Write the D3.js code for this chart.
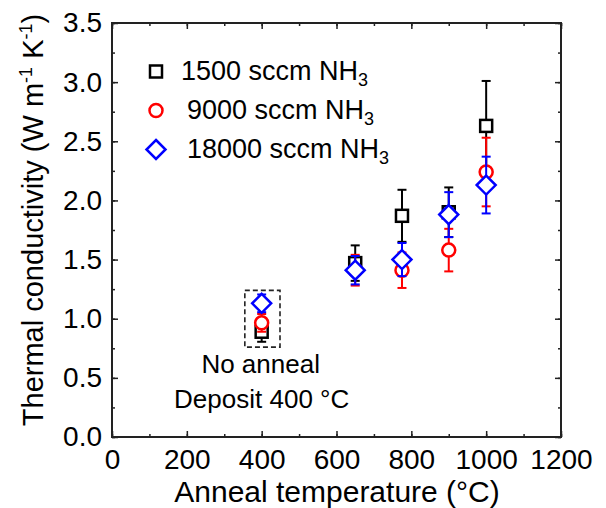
<!DOCTYPE html>
<html><head><meta charset="utf-8">
<script src="https://cdn.jsdelivr.net/npm/d3@7"></script>
<style>body{margin:0;background:#fff}svg{display:block;font-family:"Liberation Sans",Arial,sans-serif}</style>
</head><body><svg id="c" width="606" height="508"></svg>
<script>
const temps = [400, 650, 775, 900, 1000];
const s1500 = [0.89, 1.47, 1.87, 1.90, 2.63];
const e1500 = [0.085, 0.15, 0.22, 0.21, 0.38];
const s9000 = [0.965, 1.41, 1.41, 1.58, 2.24];
const e9000 = [0.075, 0.13, 0.15, 0.18, 0.29];
const s18000 = [1.13, 1.41, 1.50, 1.88, 2.13];
const e18000 = [0.075, 0.12, 0.14, 0.19, 0.24];
const seriesNames = ["1500 sccm NH", "9000 sccm NH", "18000 sccm NH"];
const xTicks = [0, 200, 400, 600, 800, 1000, 1200];
const yTicks = [0, 0.5, 1.0, 1.5, 2.0, 2.5, 3.0, 3.5];
const boxX = [355, 449], boxY = [0.76, 1.24];

const svg = d3.select("#c");
const L = 112, R = 561, T = 23, B = 437;
const x = d3.scaleLinear().domain([0, 1200]).range([L, R]);
const y = d3.scaleLinear().domain([0, 3.5]).range([B, T]);
const fs = 26, tfs = 28;

function styleAxis(g){ g.select(".domain").remove(); g.selectAll("line").attr("stroke","#222").attr("stroke-width",1.5); }
const minorX = d3.range(0, 1201, 100), minorY = d3.range(0, 3.51, 0.25);
// bottom
svg.append("g").attr("transform",`translate(0,${B})`).call(d3.axisBottom(x).tickValues(minorX).tickSize(-3).tickFormat("")).call(styleAxis);
svg.append("g").attr("transform",`translate(0,${B})`).call(d3.axisBottom(x).tickValues(xTicks).tickSize(-6).tickPadding(12).tickFormat(d3.format("d"))).call(styleAxis)
  .selectAll("text").attr("font-size",tfs).attr("fill","#000").attr("font-family","Liberation Sans, Arial, sans-serif");
// top
svg.append("g").attr("transform",`translate(0,${T})`).call(d3.axisTop(x).tickValues(minorX).tickSize(-3).tickFormat("")).call(styleAxis);
svg.append("g").attr("transform",`translate(0,${T})`).call(d3.axisTop(x).tickValues(xTicks).tickSize(-6).tickFormat("")).call(styleAxis);
// left
svg.append("g").attr("transform",`translate(${L},0)`).call(d3.axisLeft(y).tickValues(minorY).tickSize(-3).tickFormat("")).call(styleAxis);
svg.append("g").attr("transform",`translate(${L},0)`).call(d3.axisLeft(y).tickValues(yTicks).tickSize(-6).tickPadding(10).tickFormat(d3.format(".1f"))).call(styleAxis)
  .selectAll("text").attr("font-size",tfs).attr("fill","#000").attr("font-family","Liberation Sans, Arial, sans-serif");
// right
svg.append("g").attr("transform",`translate(${R},0)`).call(d3.axisRight(y).tickValues(minorY).tickSize(-3).tickFormat("")).call(styleAxis);
svg.append("g").attr("transform",`translate(${R},0)`).call(d3.axisRight(y).tickValues(yTicks).tickSize(-6).tickFormat("")).call(styleAxis);
// frame
svg.append("rect").attr("x",L).attr("y",T).attr("width",R-L).attr("height",B-T).attr("fill","none").attr("stroke","#222").attr("stroke-width",2);

// axis titles
svg.append("text").attr("x",(L+R)/2+0.5).attr("y",502).attr("text-anchor","middle").attr("font-size",30).text("Anneal temperature (°C)");
const yt = svg.append("text").attr("transform","translate(43,220) rotate(-90)").attr("text-anchor","middle").attr("font-size",29);
yt.append("tspan").text("Thermal conductivity (W m");
yt.append("tspan").attr("dy",-11).attr("font-size",18).text("-1");
yt.append("tspan").attr("dy",11).text(" K");
yt.append("tspan").attr("dy",-11).attr("font-size",18).text("-1");
yt.append("tspan").attr("dy",11).text(")");

// dashed box
svg.append("rect").attr("x",x(boxX[0])).attr("y",y(boxY[1])).attr("width",x(boxX[1])-x(boxX[0])).attr("height",y(boxY[0])-y(boxY[1]))
  .attr("fill","none").attr("stroke","#222").attr("stroke-width",1.6).attr("stroke-dasharray","5,3");
svg.append("text").attr("x",x(400)-1).attr("y",373).attr("text-anchor","middle").attr("font-size",fs).text("No anneal");
svg.append("text").attr("x",x(400)).attr("y",408).attr("text-anchor","middle").attr("font-size",fs).text("Deposit 400 °C");

const series = [
  {v:s1500, e:e1500, color:"#000", shape:"square"},
  {v:s9000, e:e9000, color:"#ff0000", shape:"circle"},
  {v:s18000, e:e18000, color:"#0000ff", shape:"diamond"}
];
function marker(g, shape, color, cx, cy){
  if(shape==="square") g.append("rect").attr("x",cx-6).attr("y",cy-6).attr("width",12).attr("height",12).attr("fill","#fff").attr("stroke",color).attr("stroke-width",2.5);
  else if(shape==="circle") g.append("circle").attr("cx",cx).attr("cy",cy).attr("r",6.5).attr("fill","#fff").attr("stroke",color).attr("stroke-width",2.5);
  else g.append("path").attr("d",`M${cx},${cy-9.5}L${cx+9.5},${cy}L${cx},${cy+9.5}L${cx-9.5},${cy}Z`).attr("fill","#fff").attr("stroke",color).attr("stroke-width",2.5);
}
series.forEach(s => {
  const g = svg.append("g");
  temps.forEach((t,i) => {
    const cx = x(t), y1 = y(s.v[i]+s.e[i]), y0 = y(s.v[i]-s.e[i]);
    g.append("line").attr("x1",cx).attr("x2",cx).attr("y1",y1).attr("y2",y0).attr("stroke",s.color).attr("stroke-width",2);
    [y1,y0].forEach(yy => g.append("line").attr("x1",cx-4.5).attr("x2",cx+4.5).attr("y1",yy).attr("y2",yy).attr("stroke",s.color).attr("stroke-width",2));
  });
  temps.forEach((t,i) => marker(g, s.shape, s.color, x(t), y(s.v[i])));
});

// legend
const legY = [71.5, 110.5, 149.5], legTx = [181, 187, 187];
series.forEach((s,i) => {
  const g = svg.append("g");
  marker(g, s.shape, s.color, 156, legY[i]);
  const t = svg.append("text").attr("x",legTx[i]).attr("y",legY[i]+8.5).attr("font-size",27);
  t.append("tspan").text(seriesNames[i]);
  t.append("tspan").attr("dy",6).attr("font-size",18).text("3");
});
</script></body></html>
